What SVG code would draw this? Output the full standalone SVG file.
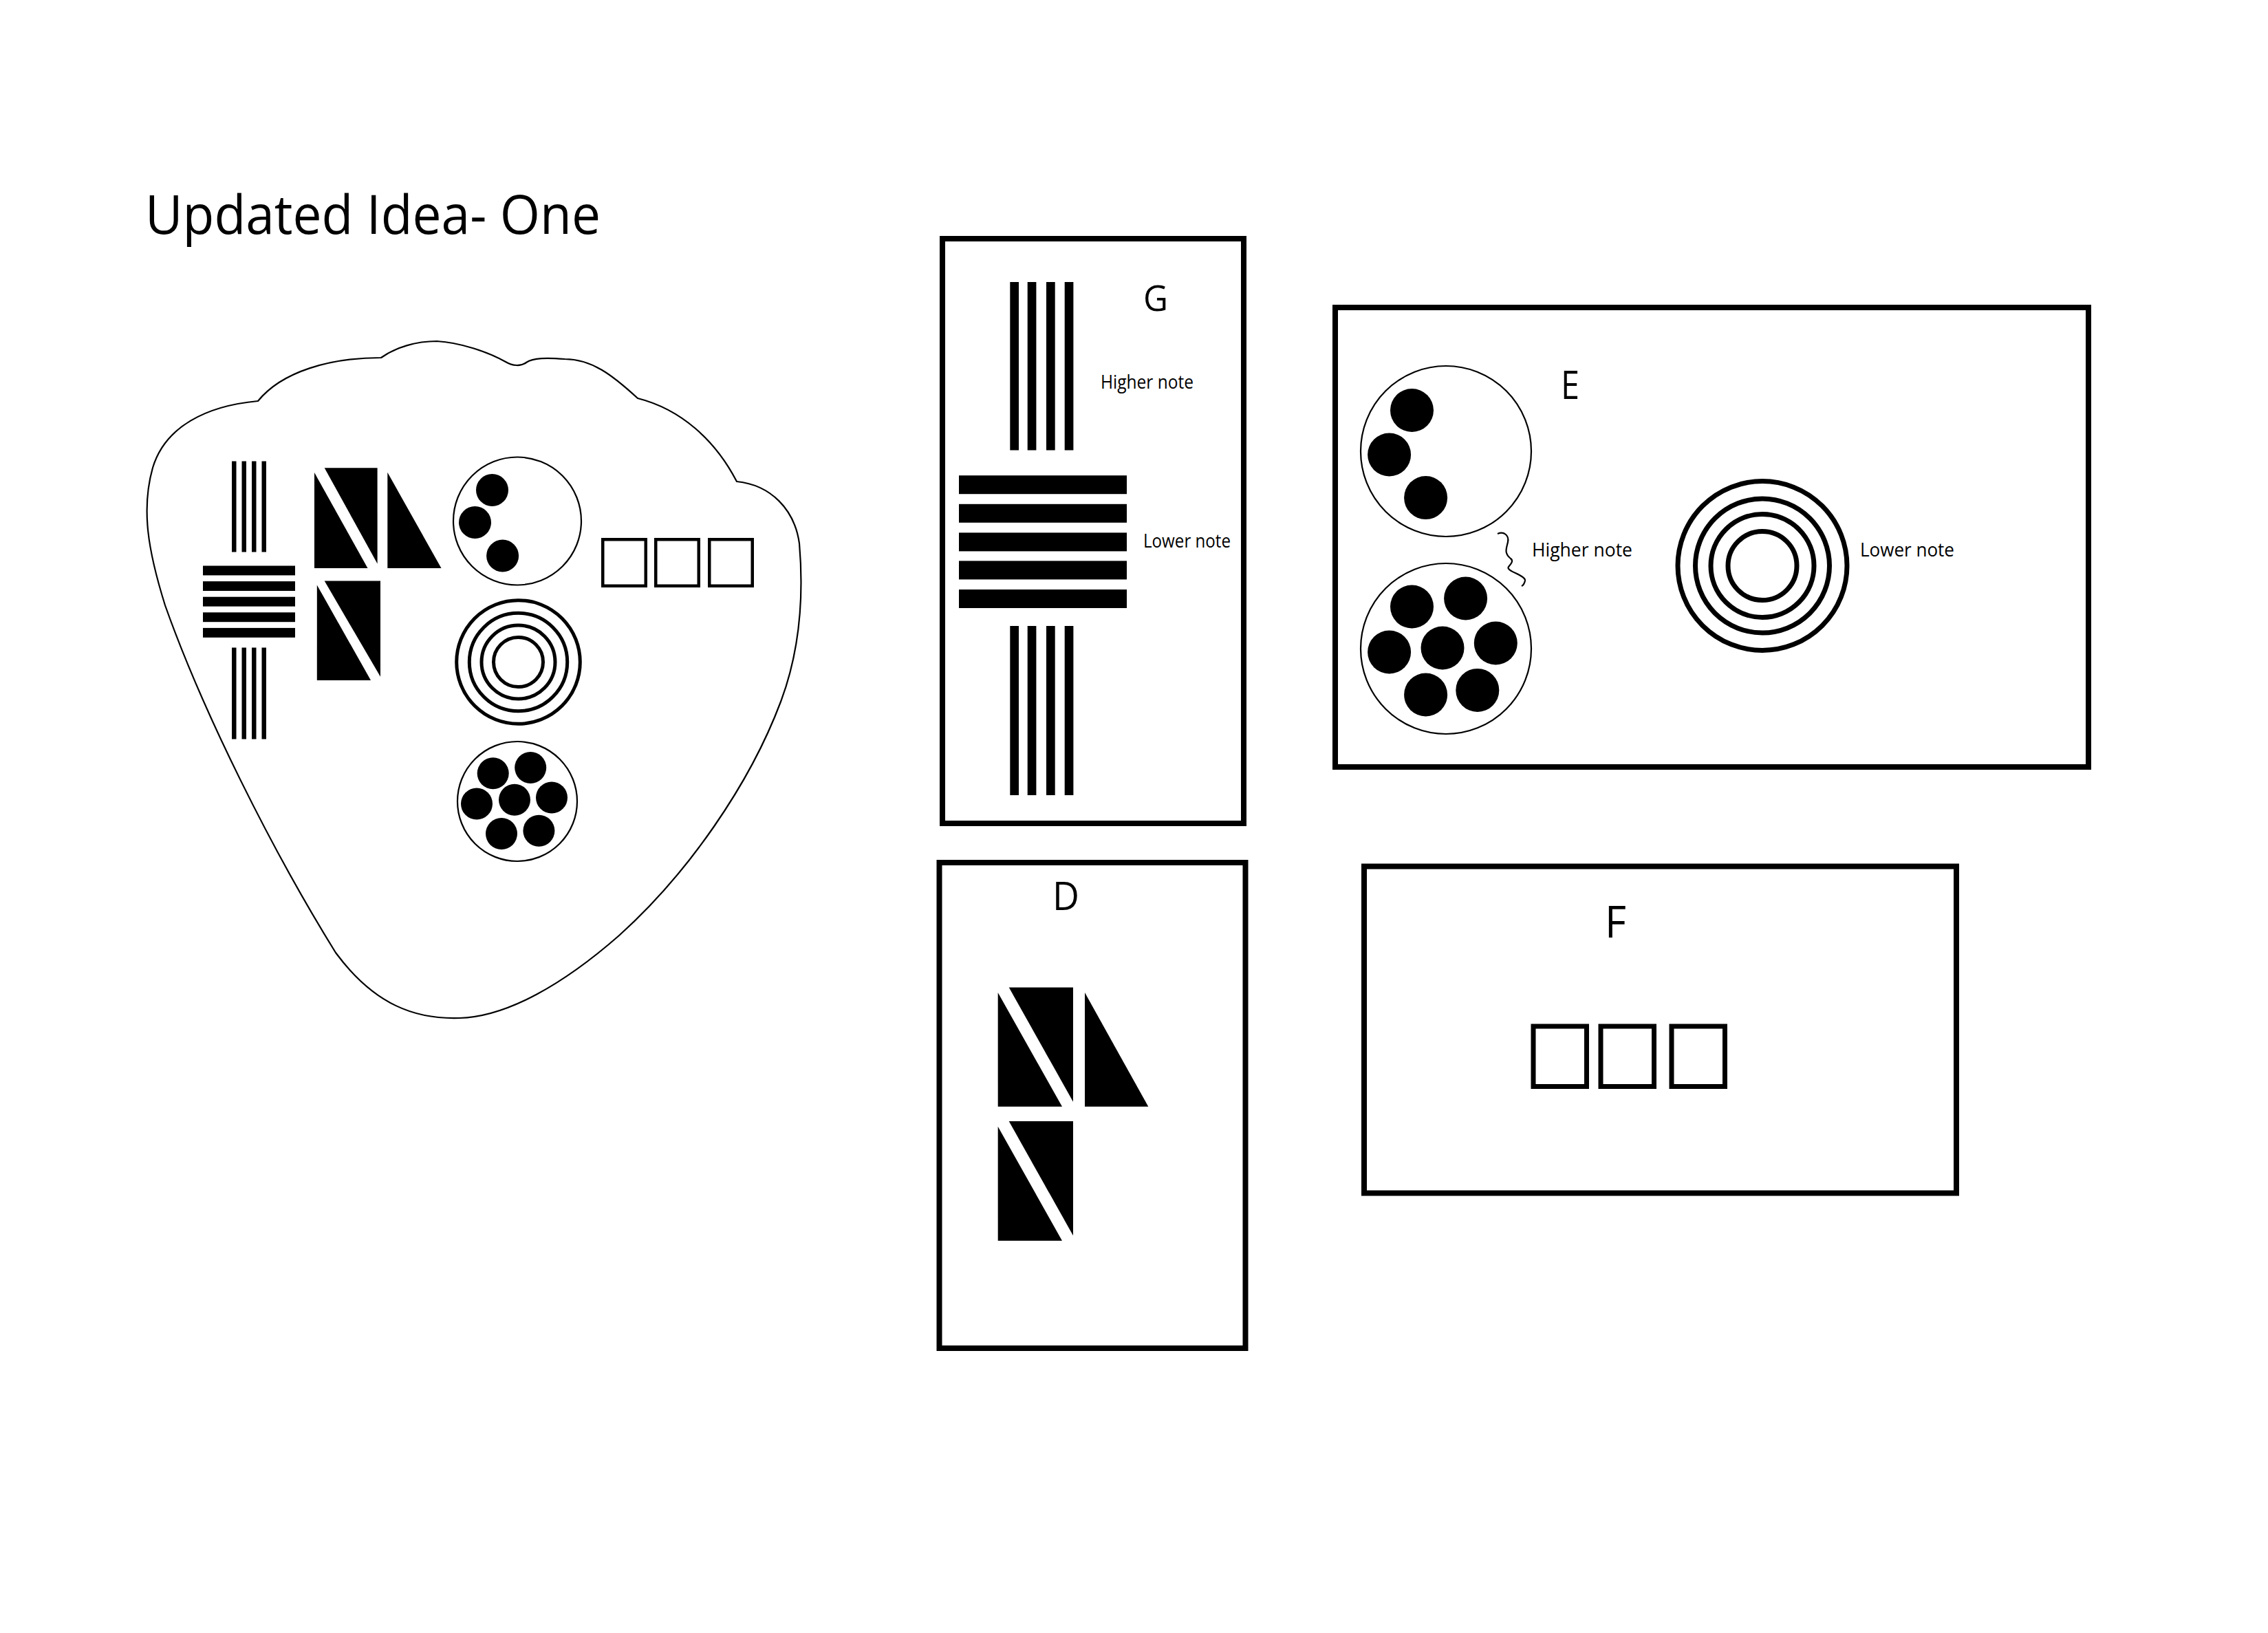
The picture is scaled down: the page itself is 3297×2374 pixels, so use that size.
<svg xmlns="http://www.w3.org/2000/svg" width="3297" height="2374" viewBox="0 0 3297 2374">
<style>
.ink{fill:#000}
.thin{fill:none;stroke:#000;stroke-width:2.2}
.frame{fill:none;stroke:#000;stroke-width:8}
.ring{fill:none;stroke:#000}
.sq{fill:none;stroke:#000}
.lbl{font-family:"Open Sans","Noto Sans","Liberation Sans",sans-serif;fill:#000}
</style>
<rect width="3297" height="2374" fill="#fff"/>

<g id="title">
<text class="lbl" x="211" y="340" font-size="78" textLength="662" lengthAdjust="spacingAndGlyphs">Updated Idea- One</text>
</g>

<g id="pick">
<path class="thin" d="M375,583 C300,590 240,620 222,680 C205,740 215,800 240,880 C295,1035 395,1235 488,1385 C545,1462 605,1482 668,1480 C738,1478 820,1430 900,1360 C1000,1270 1090,1140 1135,1020 C1165,940 1168,860 1162,790 C1155,740 1120,705 1071,700 C1040,640 990,595 927,579 C890,545 860,522 821,522 C795,520 775,520 765,527 C757,533 745,532 735,526 C710,512 670,498 635,496 C605,496 575,505 554,520 C480,520 410,540 375,583 Z"/>
<g id="pick-bars">
<rect class="ink" x="337" y="670.5" width="6.5" height="132"/>
<rect class="ink" x="351.5" y="670.5" width="6.5" height="132"/>
<rect class="ink" x="366" y="670.5" width="6.5" height="132"/>
<rect class="ink" x="380.5" y="670.5" width="6.5" height="132"/>
<rect class="ink" x="295" y="822.5" width="134" height="13.9"/>
<rect class="ink" x="295" y="845.1" width="134" height="13.9"/>
<rect class="ink" x="295" y="867.7" width="134" height="13.9"/>
<rect class="ink" x="295" y="890.3" width="134" height="13.9"/>
<rect class="ink" x="295" y="912.9" width="134" height="13.9"/>
<rect class="ink" x="337" y="941.5" width="6.5" height="133"/>
<rect class="ink" x="351.5" y="941.5" width="6.5" height="133"/>
<rect class="ink" x="366" y="941.5" width="6.5" height="133"/>
<rect class="ink" x="380.5" y="941.5" width="6.5" height="133"/>
</g>
<g id="pick-triangles">
<polygon class="ink" points="457,687 457,826 534.5,826"/>
<polygon class="ink" points="471.7,680.3 548.6,680.3 548.6,819.4"/>
<polygon class="ink" points="563.3,686.8 563.3,826 641.5,826"/>
<polygon class="ink" points="460.8,850.5 460.8,989 539,989"/>
<polygon class="ink" points="471.7,844.6 553,844.6 553,983.7"/>
</g>
<g id="pick-three-dots">
<circle class="thin" cx="752" cy="757.5" r="93" stroke-width="1.6"/>
<circle class="ink" cx="715.5" cy="712.5" r="23.5"/>
<circle class="ink" cx="690.5" cy="759.5" r="23.5"/>
<circle class="ink" cx="730.6" cy="808" r="23.5"/>
</g>
<g id="pick-rings">
<circle class="ring" cx="753.5" cy="962.5" r="89.8" stroke-width="5"/>
<circle class="ring" cx="753.5" cy="962.5" r="71.2" stroke-width="5"/>
<circle class="ring" cx="753.5" cy="962.5" r="53.5" stroke-width="5"/>
<circle class="ring" cx="753.5" cy="962.5" r="36" stroke-width="5"/>
</g>
<g id="pick-seven-dots">
<circle class="thin" cx="752" cy="1165" r="87" stroke-width="1.6"/>
<circle class="ink" cx="716.7" cy="1124.3" r="23"/>
<circle class="ink" cx="771.2" cy="1116" r="23"/>
<circle class="ink" cx="693" cy="1168.6" r="23"/>
<circle class="ink" cx="748" cy="1162.8" r="23"/>
<circle class="ink" cx="802" cy="1159.6" r="23"/>
<circle class="ink" cx="729" cy="1212" r="23"/>
<circle class="ink" cx="783.4" cy="1207.7" r="23"/>
</g>
<g id="pick-squares">
<rect class="sq" x="876.25" y="784.25" width="62.5" height="67.5" stroke-width="4.5"/>
<rect class="sq" x="953.25" y="784.25" width="62.5" height="67.5" stroke-width="4.5"/>
<rect class="sq" x="1031.25" y="784.25" width="62.5" height="67.5" stroke-width="4.5"/>
</g>
</g>

<g id="node-G">
<rect class="frame" x="1370" y="347" width="438" height="850"/>
<rect class="ink" x="1468.3" y="410" width="12.7" height="244.5"/>
<rect class="ink" x="1493.7" y="410" width="12.7" height="244.5"/>
<rect class="ink" x="1521" y="410" width="12.7" height="244.5"/>
<rect class="ink" x="1547.7" y="410" width="12.7" height="244.5"/>
<rect class="ink" x="1394" y="691.2" width="244" height="27"/>
<rect class="ink" x="1394" y="732.8" width="244" height="27"/>
<rect class="ink" x="1394" y="774.4" width="244" height="27"/>
<rect class="ink" x="1394" y="815.4" width="244" height="27"/>
<rect class="ink" x="1394" y="857" width="244" height="27"/>
<rect class="ink" x="1468.3" y="910" width="12.7" height="246"/>
<rect class="ink" x="1493.7" y="910" width="12.7" height="246"/>
<rect class="ink" x="1521" y="910" width="12.7" height="246"/>
<rect class="ink" x="1547.7" y="910" width="12.7" height="246"/>
<text class="lbl" x="1662" y="452" font-size="52" textLength="36" lengthAdjust="spacingAndGlyphs">G</text>
<text class="lbl" x="1600" y="565" font-size="28" textLength="135" lengthAdjust="spacingAndGlyphs">Higher note</text>
<text class="lbl" x="1662" y="796" font-size="28" textLength="127" lengthAdjust="spacingAndGlyphs">Lower note</text>
</g>

<g id="node-E">
<rect class="frame" x="1941" y="447" width="1095" height="668" stroke-width="9.5"/>
<circle class="thin" cx="2102" cy="656" r="124"/>
<circle class="ink" cx="2052.5" cy="596.5" r="31.5"/>
<circle class="ink" cx="2019.6" cy="661" r="31.5"/>
<circle class="ink" cx="2072.6" cy="723.6" r="31.5"/>
<circle class="thin" cx="2102" cy="943" r="124"/>
<circle class="ink" cx="2052.5" cy="882" r="31.5"/>
<circle class="ink" cx="2130.6" cy="870" r="31.5"/>
<circle class="ink" cx="2019.6" cy="948" r="31.5"/>
<circle class="ink" cx="2097" cy="942" r="31.5"/>
<circle class="ink" cx="2174.3" cy="935" r="31.5"/>
<circle class="ink" cx="2072.6" cy="1010" r="31.5"/>
<circle class="ink" cx="2147.8" cy="1003.4" r="31.5"/>
<path class="thin" stroke-width="3" d="M2177,776 C2186,772 2194,778 2192,788 C2190,797 2186,804 2196,812 C2200,815 2198,818 2193,824 C2188,830 2218,836 2217,844 C2216,849 2214,851 2212,852"/>
<circle class="ring" cx="2562" cy="822.5" r="123" stroke-width="7"/>
<circle class="ring" cx="2562" cy="822.5" r="97.5" stroke-width="7"/>
<circle class="ring" cx="2562" cy="822.5" r="75" stroke-width="7"/>
<circle class="ring" cx="2562" cy="822.5" r="50" stroke-width="7"/>
<text class="lbl" x="2269" y="580" font-size="57" textLength="27" lengthAdjust="spacingAndGlyphs">E</text>
<text class="lbl" x="2227" y="809" font-size="27" textLength="146" lengthAdjust="spacingAndGlyphs">Higher note</text>
<text class="lbl" x="2704" y="809" font-size="27" textLength="137" lengthAdjust="spacingAndGlyphs">Lower note</text>
</g>

<g id="node-D">
<rect class="frame" x="1365.5" y="1254" width="445" height="706"/>
<polygon class="ink" points="1450.7,1443.1 1450.7,1608.8 1544,1608.8"/>
<polygon class="ink" points="1466.7,1435.5 1560,1435.5 1560,1601.7"/>
<polygon class="ink" points="1577,1443.1 1577,1608.8 1669.3,1608.8"/>
<polygon class="ink" points="1450.7,1637.7 1450.7,1803.8 1544,1803.8"/>
<polygon class="ink" points="1466.7,1630.1 1560,1630.1 1560,1796.2"/>
<text class="lbl" x="1530" y="1323" font-size="56" textLength="39" lengthAdjust="spacingAndGlyphs">D</text>
</g>

<g id="node-F">
<rect class="frame" x="1983" y="1259.5" width="861" height="475" stroke-width="8.5"/>
<rect class="sq" x="2229" y="1492" width="77.5" height="87.5" stroke-width="7"/>
<rect class="sq" x="2327" y="1492" width="77.5" height="87.5" stroke-width="7"/>
<rect class="sq" x="2430" y="1492" width="77.5" height="87.5" stroke-width="7"/>
<text class="lbl" x="2333" y="1363" font-size="64" textLength="31" lengthAdjust="spacingAndGlyphs">F</text>
</g>

<g id="connectors"></g>
</svg>
